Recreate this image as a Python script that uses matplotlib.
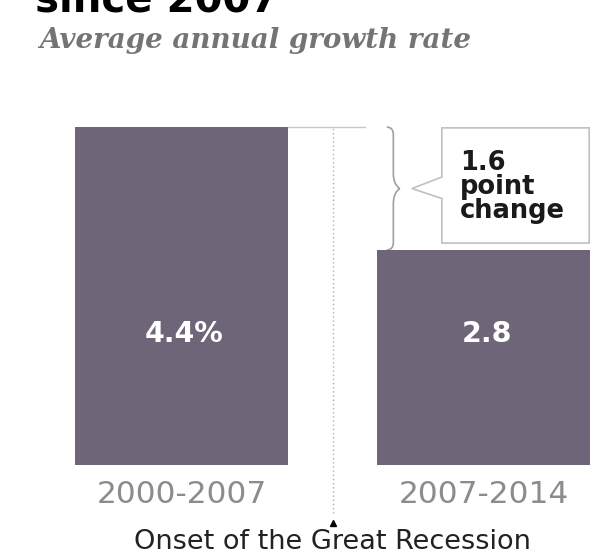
import matplotlib.pyplot as plt
from matplotlib.path import Path
from matplotlib.patches import PathPatch, Polygon

# data
periods = ["2000-2007", "2007-2014"]
growth = [4.4, 2.8]
value_labels = ["4.4%", "2.8"]
change_label = "1.6\npoint\nchange"

bar_color = "#6f6578"
grey = "#8c8c8c"

fig = plt.figure(figsize=(5.91, 5.54), dpi=100)
ax = fig.add_axes([0, 0, 1, 1])
ax.set_xlim(-0.600, 1.354)
ax.set_ylim(-1.159, 6.055)
ax.axis("off")

x = list(range(len(periods)))
ax.bar(x, growth, width=0.704, color=bar_color, zorder=2)

for xi, v, lab in zip(x, growth, value_labels):
    ax.text(xi + 0.01, 1.7, lab, ha="center", va="center", color="white",
            fontsize=20.5, fontweight="bold", zorder=3)
    ax.text(xi, -0.39, periods[xi], ha="center", va="center", color=grey,
            fontsize=22.5)

# recession marker
mid_x = 0.5
ax.plot([mid_x, mid_x], [-0.62, growth[0]], color="#b0b0b0", lw=1, ls=(0, (1, 2)), zorder=1)
ax.plot([0.352, 0.607], [growth[0], growth[0]], color="#c8c8c8", lw=1)
ax.plot([mid_x], [-0.76], marker="^", color="black", markersize=5)
ax.text(mid_x, -1.10, "Onset of the Great Recession", ha="center", va="baseline",
        fontsize=19.5, color="#222222")

# brace between the two bar heights
top, bot = growth[0], growth[1]
mid = (top + bot) / 2
bx0, bx1 = 0.679, 0.722
bxm = (bx0 + bx1) / 2
verts = [(bx0, top), (bxm, top), (bxm, top - 0.1), (bxm, mid + 0.2),
         (bxm, mid + 0.05), (bx1, mid), (bx1, mid),
         (bxm, mid - 0.05), (bxm, mid - 0.2), (bxm, bot + 0.1),
         (bxm, bot), (bx0, bot)]
codes = [Path.MOVETO, Path.CURVE3, Path.CURVE3, Path.LINETO,
         Path.CURVE3, Path.CURVE3, Path.MOVETO,
         Path.CURVE3, Path.CURVE3, Path.LINETO,
         Path.CURVE3, Path.CURVE3]
ax.add_patch(PathPatch(Path(verts, codes), fill=False, ec="#a0a0a0", lw=1.2))

# callout box
l, r = 0.861, 1.348
yt, yb = top - 0.01, bot + 0.09
box = [(l, yt), (r, yt), (r, yb), (l, yb), (l, mid - 0.13),
       (0.762, mid), (l, mid + 0.15)]
ax.add_patch(Polygon(box, closed=True, fc="white", ec="#c0c0c0", lw=1.2, zorder=3))
ax.text(0.921, mid + 0.02, change_label, ha="left", va="center", fontsize=18.5,
        fontweight="heavy", color="#1a1a1a", linespacing=0.92, zorder=4)

# title (cut off at top) and subtitle
fig.text(0.059, 1 - 12 / 554, "since 2007", ha="left", va="baseline",
         fontsize=29, fontweight="bold", color="black")
fig.text(0.066, 1 - 48 / 554, "Average annual growth rate", ha="left", va="baseline",
         fontsize=20, style="italic", fontweight="bold", family="DejaVu Serif",
         color="#747474")

fig.savefig("out.png", dpi=100)
